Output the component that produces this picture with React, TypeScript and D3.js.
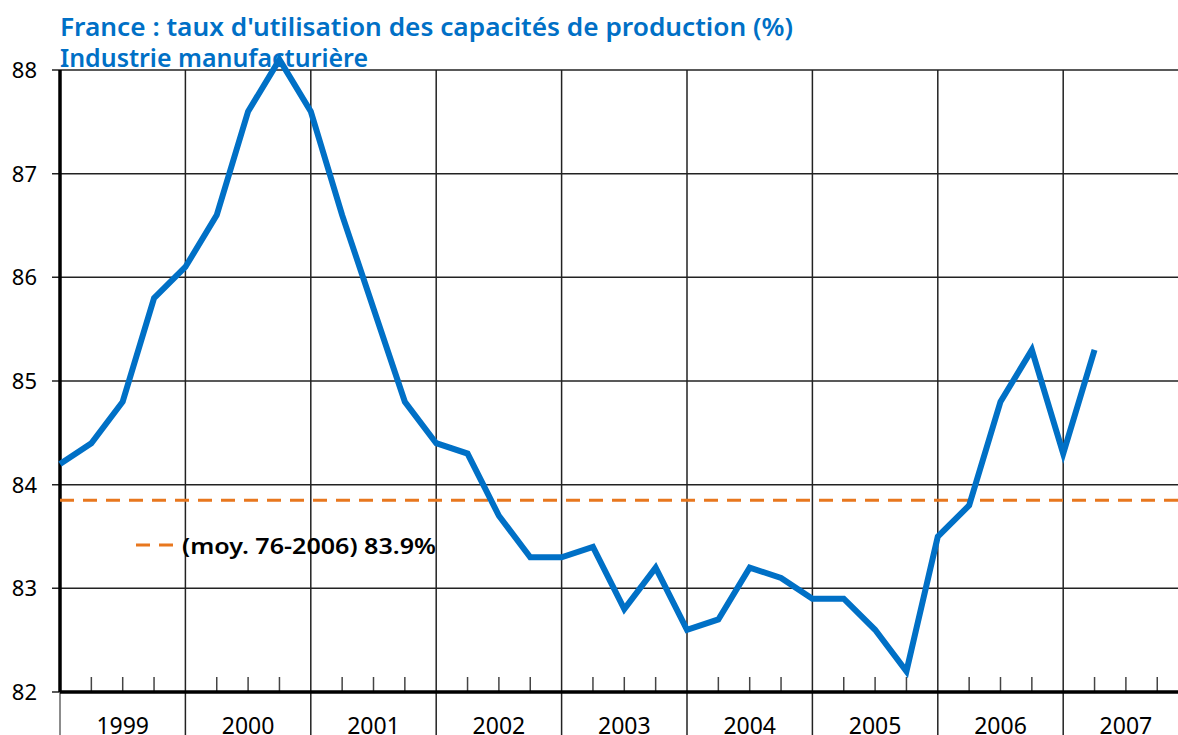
import { useEffect, useRef } from "react";
import * as d3 from "d3";

const title1 = "France : taux d'utilisation des capacités de production (%)";
const title2 = "Industrie manufacturière";
const years = [1999, 2000, 2001, 2002, 2003, 2004, 2005, 2006, 2007];
const yTicks = [82, 83, 84, 85, 86, 87, 88];
// quarterly values, first point = start of 1999
const rates = [
  84.2, 84.4, 84.8, 85.8,
  86.1, 86.6, 87.6, 88.1,
  87.6, 86.6, 85.7, 84.8,
  84.4, 84.3, 83.7, 83.3,
  83.3, 83.4, 82.8, 83.2,
  82.6, 82.7, 83.2, 83.1,
  82.9, 82.9, 82.6, 82.2,
  83.5, 83.8, 84.8, 85.3,
  84.3, 85.3,
];
const average = 83.85;
const averageLabel = "(moy. 76-2006) 83.9%";

const W = 1178;
const H = 735;
const FONT = "'Noto Sans', 'Open Sans', sans-serif";
const BLUE = "#0070C6";
const ORANGE = "#E8771E";

export default function App() {
  const svgRef = useRef<SVGSVGElement | null>(null);

  useEffect(() => {
    if (!svgRef.current) return;
    const svg = d3.select(svgRef.current);
    svg.selectAll("*").remove();

    const left = 60;
    const yearW = 125.4;
    const top = 70;
    const bottom = 692;

    const x = d3.scaleLinear().domain([1999, 2008]).range([left, left + 9 * yearW]);
    const y = d3.scaleLinear().domain([82, 88]).range([bottom, top]);

    // horizontal grid
    svg.append("g")
      .selectAll("line")
      .data(yTicks)
      .join("line")
      .attr("x1", left - 8)
      .attr("x2", W)
      .attr("y1", d => y(d))
      .attr("y2", d => y(d))
      .attr("stroke", "#222")
      .attr("stroke-width", 1.5);

    // vertical year lines (extend below the axis)
    svg.append("g")
      .selectAll("line")
      .data(years.slice(1))
      .join("line")
      .attr("x1", d => x(d))
      .attr("x2", d => x(d))
      .attr("y1", top)
      .attr("y2", H)
      .attr("stroke", "#222")
      .attr("stroke-width", 1.5);

    // quarter ticks
    const quarters = d3.range(0, 36).filter(i => i % 4 !== 0).map(i => 1999 + i / 4);
    svg.append("g")
      .selectAll("line")
      .data(quarters)
      .join("line")
      .attr("x1", d => x(d))
      .attr("x2", d => x(d))
      .attr("y1", bottom - 15)
      .attr("y2", bottom)
      .attr("stroke", "#444")
      .attr("stroke-width", 1.5);

    // left axis
    svg.append("line")
      .attr("x1", left).attr("x2", left)
      .attr("y1", bottom).attr("y2", H)
      .attr("stroke", "#666").attr("stroke-width", 1.5);
    svg.append("line")
      .attr("x1", left).attr("x2", left)
      .attr("y1", top).attr("y2", bottom)
      .attr("stroke", "#000").attr("stroke-width", 3.5);
    // bottom axis
    svg.append("line")
      .attr("x1", left).attr("x2", W)
      .attr("y1", bottom).attr("y2", bottom)
      .attr("stroke", "#000").attr("stroke-width", 3.5);

    // y labels
    svg.append("g")
      .selectAll("text")
      .data(yTicks)
      .join("text")
      .attr("x", 37)
      .attr("y", d => y(d) + 8)
      .attr("text-anchor", "end")
      .attr("font-family", FONT)
      .attr("font-size", 22)
      .attr("fill", "#000")
      .text(d => d);

    // year labels (cut by the bottom edge, as in the source)
    svg.append("g")
      .selectAll("text")
      .data(years)
      .join("text")
      .attr("x", d => x(d + 0.5))
      .attr("y", 734)
      .attr("text-anchor", "middle")
      .attr("font-family", FONT)
      .attr("font-size", 23)
      .attr("fill", "#000")
      .text(d => d);

    // average line
    svg.append("line")
      .attr("x1", left).attr("x2", W)
      .attr("y1", y(average)).attr("y2", y(average))
      .attr("stroke", ORANGE)
      .attr("stroke-width", 3)
      .attr("stroke-dasharray", "14,9");

    // series
    const line = d3.line<number>()
      .x((_, i) => x(1999 + i / 4))
      .y(d => y(d));
    svg.append("path")
      .datum(rates)
      .attr("d", line)
      .attr("fill", "none")
      .attr("stroke", BLUE)
      .attr("stroke-width", 6)
      .attr("stroke-linejoin", "miter")
      .attr("stroke-linecap", "butt");

    // legend
    svg.append("line")
      .attr("x1", 136).attr("x2", 176)
      .attr("y1", 545).attr("y2", 545)
      .attr("stroke", ORANGE)
      .attr("stroke-width", 3)
      .attr("stroke-dasharray", "14,9");
    svg.append("text")
      .attr("x", 182)
      .attr("y", 554)
      .attr("font-family", FONT)
      .attr("font-size", 22)
      .attr("font-weight", 600)
      .attr("textLength", 254)
      .attr("lengthAdjust", "spacingAndGlyphs")
      .attr("fill", "#000")
      .text(averageLabel);

    // title
    svg.append("text")
      .attr("x", 60)
      .attr("y", 36)
      .attr("font-family", FONT)
      .attr("font-size", 25)
      .attr("font-weight", 600)
      .attr("textLength", 733)
      .attr("lengthAdjust", "spacingAndGlyphs")
      .attr("fill", BLUE)
      .text(title1);
    svg.append("text")
      .attr("x", 60)
      .attr("y", 67)
      .attr("font-family", FONT)
      .attr("font-size", 25)
      .attr("font-weight", 600)
      .attr("textLength", 308)
      .attr("lengthAdjust", "spacingAndGlyphs")
      .attr("fill", BLUE)
      .text(title2);
  }, []);

  return (
    <svg
      ref={svgRef}
      width={W}
      height={H}
      style={{ position: "absolute", left: 0, top: 0, background: "#fff" }}
    />
  );
}
